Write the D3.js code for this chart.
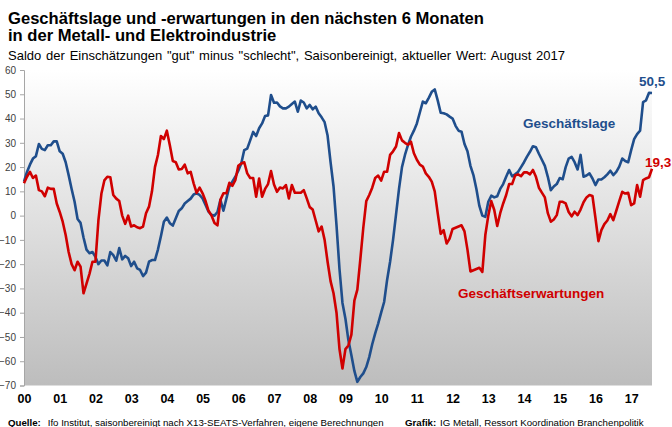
<!DOCTYPE html>
<html>
<head>
<meta charset="utf-8">
<script src="https://cdn.jsdelivr.net/npm/d3@7"></script>
<style>
  body { margin: 0; background: #fff; }
  svg { display: block; font-family: "Liberation Sans", Arial, sans-serif; }
</style>
</head>
<body>
<svg id="chart" width="672" height="427"></svg>
<script>
'use strict';

// Monthly values, Jan 2000 .. Aug 2017 (one row per year)
const geschaeftslage = [
  14, 18, 21, 23.5, 24.5, 29.5, 27.5, 27, 29, 29, 30.6, 30.6,
  26.5, 25.5, 22, 16.7, 11, 5.7, -1.4, -3, -9, -14, -15.5, -15,
  -17, -20, -18.5, -18.5, -20.5, -15, -16.3, -18.6, -13.4, -18, -16.6, -17.6,
  -20.8, -19, -21.7, -22.4, -24.9, -23.5, -19, -18.3, -18.3, -14, -8.5, -2.5,
  -0.8, -3.1, -4.1, -1.1, 1.9, 3, 5, 6, 7, 8.7, 9.2, 8.5,
  7.1, 4.4, 1.6, 0.3, 0, 1.5, 6.5, 2, 7, 12, 14, 16,
  18.5, 21.5, 27, 27.6, 31, 34.5, 32.8, 36, 38, 41, 41.3, 49.7,
  46.5, 46.6, 45, 44.2, 44.2, 44.9, 46, 47, 42.8, 47.4, 46.6, 44.2,
  45.6, 43.8, 44.9, 42.2, 40.5, 38.5, 33, 22, 12, -4, -22, -36,
  -42.5, -51.4, -57.5, -64, -68.5, -66.5, -65, -62.4, -58.3, -53, -48.5, -44.5,
  -40, -35.6, -26.5, -19, -10, 0.5, 11, 20, 25, 29, 32.5, 35,
  38, 42.5, 47, 46.3, 48.5, 51, 52, 47.5, 42.4, 42.2, 41.7, 40.8,
  40, 37, 35, 34.6, 29.5, 26.5, 20.5, 16.7, 11, 4, 0, -0.5,
  5.7, 8.2, 7.5, 8, 11, 13, 16, 18.8, 16.2, 17, 18, 20,
  22, 24.3, 26.3, 28.6, 28.2, 25.5, 23, 20.5, 16, 10.5, 12, 13,
  15.5, 15, 20, 23.5, 24.2, 22, 19, 25, 16, 16.5, 17.4, 15.3,
  12.6, 14.9, 14.9, 15.8, 17, 18.5, 16.7, 18, 20.2, 23.5, 22.5, 22,
  27, 31.5, 33.6, 35, 46.8, 47.5, 50.6, 50.5
];

const geschaeftserwartungen = [
  13.3, 16, 18, 15.5, 16.5, 10.5, 10, 8, 11.5, 11, 11, 5,
  1.5, -2.5, -8, -15, -20, -22.5, -19, -21, -32, -28, -24, -19,
  -19, -2, 9, 14.5, 16, 15.8, 8.5, 7, 6, 0, -3.4, 0,
  -4.5, -4, -4.8, -5.2, -4.5, 1, 3.7, 10, 20, 25, 32.8, 31.5,
  35, 29, 22.5, 22, 19, 19.2, 21, 17.4, 18, 13.3, 9.4, 11.5,
  9.2, 6, 2, 0, -3, -4, 6.5, 9.2, 9.2, 13.5, 12.3, 14.6,
  20.5, 21.5, 22, 17.4, 15.5, 15.5, 7.8, 15.3, 7.8, 11, 13, 18.4,
  12.8, 9.8, 11.6, 11.2, 12.6, 7.1, 12.6, 9.4, 9.4, 9.4, 10.5, 7.1,
  3.5, 2.5, -2, -6.5, -4.5, -10, -19, -27, -32, -40, -55, -63,
  -55, -53.5, -49, -35, -30.5, -18, -5, 6, 8.5, 11.5, 15.5, 16.5,
  14.4, 18.1, 18.1, 25, 26.5, 28.5, 34, 31, 30, 29.2, 30.5, 25.7,
  23, 21, 20.2, 17.4, 16, 14, 10, 1, -7.5, -6, -11.5, -9.5,
  -5.5, -5, -4.5, -4, -6.5, -14, -23, -22.5, -22, -21.5, -23.2, -8,
  0, 6, 2.3, -4.3, 1, 5, 8.5, 13, 13, 16.5, 17, 16.3,
  17.8, 17.8, 17, 18.8, 16, 11.5, 9.5, 7.5, 1, -2.5, -1.6, 0.2,
  5.7, 5.7, 5, 1.5, -0.3, 1.6, 0.2, 2.5, 5.5, 7.5, 8.5, 8.1,
  -1, -10.5, -6, -3.5, -2, 0.6, -1.9, 2, 6, 9.8, 9.1, 9.4,
  4.3, 5, 12.6, 7.8, 14.6, 15.3, 15.8, 19.3
];

const yearLabels = ['00', '01', '02', '03', '04', '05', '06', '07', '08',
                    '09', '10', '11', '12', '13', '14', '15', '16', '17'];
const yTicks = [60, 50, 40, 30, 20, 10, 0, -10, -20, -30, -40, -50, -60, -70];

const blue = '#1f4e8c',
  red = '#d00000';

let svg = d3.select('#chart');
let plotLeft = 24, plotRight = 652, plotTop = 70, plotBottom = 385.5;

let x = d3.scaleLinear().domain([0, geschaeftslage.length - 1]).range([plotLeft, plotRight]);
let y = d3.scaleLinear().domain([-70, 60]).range([plotBottom, plotTop]);

// Plot area background: white to grey
let grad = svg.append('defs').append('linearGradient')
  .attr('id', 'bg').attr('x1', 0).attr('y1', 0).attr('x2', 0).attr('y2', 1);
grad.append('stop').attr('offset', '0%').attr('stop-color', '#ffffff');
grad.append('stop').attr('offset', '100%').attr('stop-color', '#bdbdbd');
svg.append('rect')
  .attr('x', plotLeft).attr('y', plotTop)
  .attr('width', plotRight - plotLeft).attr('height', plotBottom - plotTop)
  .attr('fill', 'url(#bg)');

// Titles
svg.append('text').attr('x', 8).attr('y', 23.5)
  .attr('font-size', 16.6).attr('font-weight', 'bold').attr('fill', '#000')
  .text('Geschäftslage und -erwartungen in den nächsten 6 Monaten');
svg.append('text').attr('x', 8).attr('y', 41)
  .attr('font-size', 16.6).attr('font-weight', 'bold').attr('fill', '#000')
  .text('in der Metall- und Elektroindustrie');
svg.append('text').attr('x', 8).attr('y', 60)
  .attr('font-size', 13).attr('word-spacing', 1.2).attr('fill', '#000')
  .text('Saldo der Einschätzungen "gut" minus "schlecht", Saisonbereinigt, aktueller Wert: August 2017');

// Y axis
let yAxis = svg.append('g')
  .attr('transform', 'translate(' + plotLeft + ',0)')
  .call(d3.axisLeft(y).tickValues(yTicks).tickSize(4).tickPadding(4));
yAxis.select('.domain').attr('stroke', '#a6a6a6');
yAxis.selectAll('.tick line').attr('stroke', '#a6a6a6');
yAxis.selectAll('.tick text')
  .attr('font-size', 10).attr('font-family', '"Liberation Sans", Arial, sans-serif')
  .attr('fill', '#404040');

// X labels, one per January
let xAxis = svg.append('g')
  .attr('transform', 'translate(0,' + plotBottom + ')')
  .call(d3.axisBottom(x)
    .tickValues(yearLabels.map(function(d, i) { return i * 12; }))
    .tickFormat(function(d) { return yearLabels[d / 12]; })
    .tickSize(0).tickPadding(8.5));
xAxis.select('.domain').remove();
xAxis.selectAll('.tick text')
  .attr('font-size', 12.5).attr('font-weight', 'bold')
  .attr('font-family', '"Liberation Sans", Arial, sans-serif')
  .attr('fill', '#000');

// Lines
let line = d3.line()
  .x(function(d, i) { return x(i); })
  .y(function(d) { return y(d); });

svg.append('path')
  .attr('fill', 'none')
  .attr('stroke', blue)
  .attr('stroke-width', 2.6)
  .attr('stroke-linejoin', 'round')
  .attr('d', line(geschaeftslage));
svg.append('path')
  .attr('fill', 'none')
  .attr('stroke', red)
  .attr('stroke-width', 2.6)
  .attr('stroke-linejoin', 'round')
  .attr('d', line(geschaeftserwartungen));

// Series labels
svg.append('text').attr('x', 523).attr('y', 128)
  .attr('font-size', 13.5).attr('font-weight', 'bold').attr('fill', blue)
  .text('Geschäftslage');
svg.append('text').attr('x', 458).attr('y', 298)
  .attr('font-size', 13.5).attr('font-weight', 'bold').attr('fill', red)
  .text('Geschäftserwartungen');

// Latest values
let last = geschaeftslage.length - 1;
svg.append('text').attr('x', 639).attr('y', 86)
  .attr('font-size', 13.5).attr('font-weight', 'bold').attr('fill', blue)
  .text(String(geschaeftslage[last]).replace('.', ','));
svg.append('text').attr('x', 645).attr('y', 166.5)
  .attr('font-size', 13.5).attr('font-weight', 'bold').attr('fill', red)
  .text(String(geschaeftserwartungen[last]).replace('.', ','));

// Footer
let foot = svg.append('g').attr('font-size', 9.7).attr('fill', '#000');
foot.append('text').attr('x', 8).attr('y', 425.5).attr('font-weight', 'bold').text('Quelle:');
foot.append('text').attr('x', 47.7).attr('y', 425.5)
  .text('Ifo Institut, saisonbereinigt nach X13-SEATS-Verfahren, eigene Berechnungen');
foot.append('text').attr('x', 405).attr('y', 425.5).attr('font-weight', 'bold').text('Grafik:');
foot.append('text').attr('x', 440).attr('y', 425.5)
  .text('IG Metall, Ressort Koordination Branchenpolitik');
</script>
</body>
</html>
